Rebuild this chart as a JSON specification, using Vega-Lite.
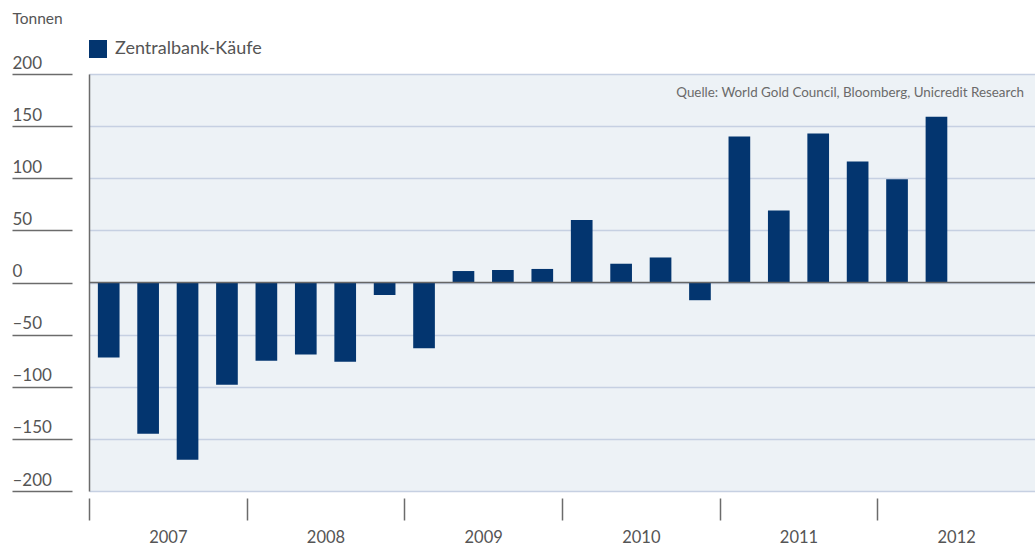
{
  "$schema": "https://vega.github.io/schema/vega-lite/v6.json",
  "width": 946,
  "height": 417,
  "autosize": "none",
  "padding": {"left": 89, "top": 74, "right": 0, "bottom": 54},
  "background": "white",
  "config": {
    "view": {"fill": "#edf2f6", "stroke": null},
    "font": "Lato"
  },
  "data": {
    "values": [
      {"year": "2007", "quarter": "Q1", "value": -72},
      {"year": "2007", "quarter": "Q2", "value": -145},
      {"year": "2007", "quarter": "Q3", "value": -170},
      {"year": "2007", "quarter": "Q4", "value": -98},
      {"year": "2008", "quarter": "Q1", "value": -75},
      {"year": "2008", "quarter": "Q2", "value": -69},
      {"year": "2008", "quarter": "Q3", "value": -76},
      {"year": "2008", "quarter": "Q4", "value": -12},
      {"year": "2009", "quarter": "Q1", "value": -63},
      {"year": "2009", "quarter": "Q2", "value": 11},
      {"year": "2009", "quarter": "Q3", "value": 12},
      {"year": "2009", "quarter": "Q4", "value": 13},
      {"year": "2010", "quarter": "Q1", "value": 60},
      {"year": "2010", "quarter": "Q2", "value": 18},
      {"year": "2010", "quarter": "Q3", "value": 24},
      {"year": "2010", "quarter": "Q4", "value": -17},
      {"year": "2011", "quarter": "Q1", "value": 140},
      {"year": "2011", "quarter": "Q2", "value": 69},
      {"year": "2011", "quarter": "Q3", "value": 143},
      {"year": "2011", "quarter": "Q4", "value": 116},
      {"year": "2012", "quarter": "Q1", "value": 99},
      {"year": "2012", "quarter": "Q2", "value": 159}
    ]
  },
  "layer": [
    {
      "mark": {"type": "bar", "color": "#03356f"},
      "encoding": {
        "x": {
          "field": "year",
          "type": "ordinal",
          "scale": {"domain": ["2007", "2008", "2009", "2010", "2011", "2012"], "paddingInner": 0, "paddingOuter": 0},
          "axis": {
            "orient": "bottom",
            "offset": 7,
            "domain": false,
            "grid": false,
            "ticks": true,
            "tickOffset": -78.83,
            "labelOffset": 78.83,
            "tickSize": 22,
            "tickColor": "#6b6b6b",
            "tickWidth": 1.5,
            "labelAngle": 0,
            "labelPadding": 9,
            "labelFontSize": 16.5,
            "labelColor": "#555555",
            "title": null
          }
        },
        "xOffset": {
          "field": "quarter",
          "type": "nominal",
          "scale": {"domain": ["Q1", "Q2", "Q3", "Q4"], "paddingInner": 0.45, "paddingOuter": 0.225}
        },
        "y": {
          "field": "value",
          "type": "quantitative",
          "scale": {"domain": [-200, 200], "nice": false},
          "axis": {
            "orient": "left",
            "offset": 0,
            "domain": true,
            "domainColor": "#6b6b6b",
            "domainWidth": 1.5,
            "ticks": false,
            "labels": false,
            "grid": true,
            "gridColor": "#c6d0e2",
            "gridWidth": 1.3,
            "values": [-200, -150, -100, -50, 0, 50, 100, 150, 200],
            "title": null
          }
        },
        "color": {
          "datum": "Zentralbank-Käufe",
          "type": "nominal",
          "scale": {"range": ["#03356f"]},
          "legend": {
            "orient": "none",
            "legendX": 0,
            "legendY": -34,
            "title": null,
            "padding": 0,
            "symbolType": "square",
            "symbolSize": 324,
            "symbolStrokeWidth": 0,
            "symbolOpacity": 1,
            "labelOffset": 8,
            "labelFontSize": 18,
            "labelColor": "#555555"
          }
        }
      }
    },
    {
      "data": {"values": [{"v": 0}]},
      "mark": {"type": "rule", "color": "#666666", "strokeWidth": 1.5},
      "encoding": {
        "y": {
          "field": "v",
          "type": "quantitative",
          "axis": {
            "orient": "left",
            "offset": 17,
            "domain": false,
            "grid": false,
            "ticks": true,
            "tickSize": 60,
            "tickColor": "#6b6b6b",
            "tickWidth": 1.5,
            "values": [-200, -150, -100, -50, 0, 50, 100, 150, 200],
            "labelAlign": "left",
            "labelBaseline": "alphabetic",
            "labelPadding": 0,
            "labelOffset": -6,
            "labelFontSize": 17,
            "labelColor": "#555555",
            "labelExpr": "datum.value < 0 ? '–' + abs(datum.value) : '' + datum.value",
            "title": "Tonnen",
            "titleAngle": 0,
            "titleAlign": "left",
            "titleBaseline": "alphabetic",
            "titleX": -60,
            "titleY": -51,
            "titleFontSize": 15.5,
            "titleFontWeight": "normal",
            "titleColor": "#555555"
          }
        }
      }
    },
    {
      "data": {"values": [{"src": "Quelle: World Gold Council, Bloomberg, Unicredit Research", "year": "2012", "pos": 178}]},
      "mark": {"type": "text", "align": "right", "baseline": "alphabetic", "dx": -11, "fontSize": 13.4, "color": "#6a6a6a"},
      "encoding": {
        "x": {"field": "year", "type": "ordinal", "bandPosition": 1},
        "y": {"field": "pos", "type": "quantitative", "axis": null},
        "text": {"field": "src"}
      }
    }
  ],
  "resolve": {"axis": {"y": "independent"}}
}
